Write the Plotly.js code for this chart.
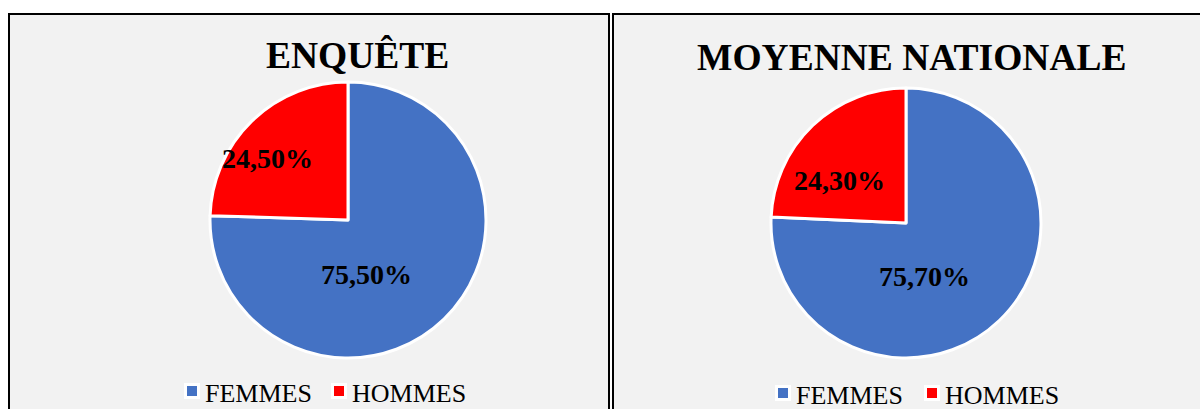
<!DOCTYPE html>
<html>
<head>
<meta charset="utf-8">
<script src="https://cdn.plot.ly/plotly-3.0.1.min.js"></script>
<style>html,body{margin:0;padding:0;background:#fff}#chart{width:1200px;height:409px}</style>
</head>
<body>
<div id="chart"></div>
<script>
const categories = ["FEMMES", "HOMMES"];
const enqueteValues = [75.5, 24.5];
const nationaleValues = [75.7, 24.3];
const chartTitles = ["ENQUÊTE", "MOYENNE NATIONALE"];
const sliceColors = ["#4472C4", "#FF0000"];

const W = 1200, H = 409;
const px = x => x / W;
const py = y => 1 - y / H;
const serif = "Liberation Serif, Times New Roman, serif";
const fmt = v => v.toFixed(2).replace(".", ",") + "%";

// panel geometry (pixels)
const panels = [
  { values: enqueteValues, title: chartTitles[0], cx: 348, cy: 220, r: 138,
    titleX: 357.5, titleY: 56,
    labelPos: [[366.5, 274], [267, 158]],
    legendSym: [192, 339], legendText: [205, 352], legendY: 391 },
  { values: nationaleValues, title: chartTitles[1], cx: 906, cy: 223, r: 135,
    titleX: 912, titleY: 57,
    labelPos: [[924.5, 276.5], [839.5, 180.5]],
    legendSym: [783, 932], legendText: [796, 945], legendY: 393 }
];

const data = panels.map(p => ({
  type: "pie",
  labels: categories,
  values: p.values,
  sort: false,
  direction: "clockwise",
  rotation: 0,
  marker: { colors: sliceColors, line: { color: "#ffffff", width: 3 } },
  textinfo: "none",
  domain: { x: [px(p.cx - p.r), px(p.cx + p.r)], y: [py(p.cy + p.r), py(p.cy - p.r)] },
  showlegend: false,
  hoverinfo: "label+percent"
}));

const shapes = [
  { type: "rect", xref: "paper", yref: "paper", layer: "below",
    x0: px(9), x1: px(609), y0: -0.1, y1: py(14),
    fillcolor: "#f2f2f2", line: { color: "#000000", width: 2 } },
  { type: "rect", xref: "paper", yref: "paper", layer: "below",
    x0: px(613), x1: 1.05, y0: -0.1, y1: py(14),
    fillcolor: "#f2f2f2", line: { color: "#000000", width: 2 } }
];
const annotations = [];

panels.forEach(p => {
  annotations.push({
    text: p.title, xref: "paper", yref: "paper", x: px(p.titleX), y: py(p.titleY),
    xanchor: "center", yanchor: "middle", showarrow: false,
    font: { family: serif, size: 37.5, color: "#000000", weight: "bold" }
  });
  p.values.forEach((v, i) => {
    annotations.push({
      text: fmt(v), xref: "paper", yref: "paper",
      x: px(p.labelPos[i][0]), y: py(p.labelPos[i][1]),
      xanchor: "center", yanchor: "middle", showarrow: false,
      font: { family: serif, size: 28, color: "#000000", weight: "bold" }
    });
  });
  categories.forEach((c, i) => {
    const sx = p.legendSym[i], sy = p.legendY;
    shapes.push({
      type: "rect", xref: "paper", yref: "paper",
      x0: px(sx - 6.5), x1: px(sx + 6.5), y0: py(sy + 6.5), y1: py(sy - 6.5),
      fillcolor: sliceColors[i], line: { color: "#ffffff", width: 3 }
    });
    annotations.push({
      text: c, xref: "paper", yref: "paper",
      x: px(p.legendText[i] - 2), y: py(sy + 2),
      xanchor: "left", yanchor: "middle", showarrow: false,
      font: { family: serif, size: 26, color: "#000000" }
    });
  });
});

const layout = {
  width: W,
  height: H,
  margin: { l: 0, r: 0, t: 0, b: 0 },
  paper_bgcolor: "#ffffff",
  showlegend: false,
  shapes: shapes,
  annotations: annotations
};

Plotly.newPlot("chart", data, layout, { displayModeBar: false, staticPlot: true });
</script>
</body>
</html>
